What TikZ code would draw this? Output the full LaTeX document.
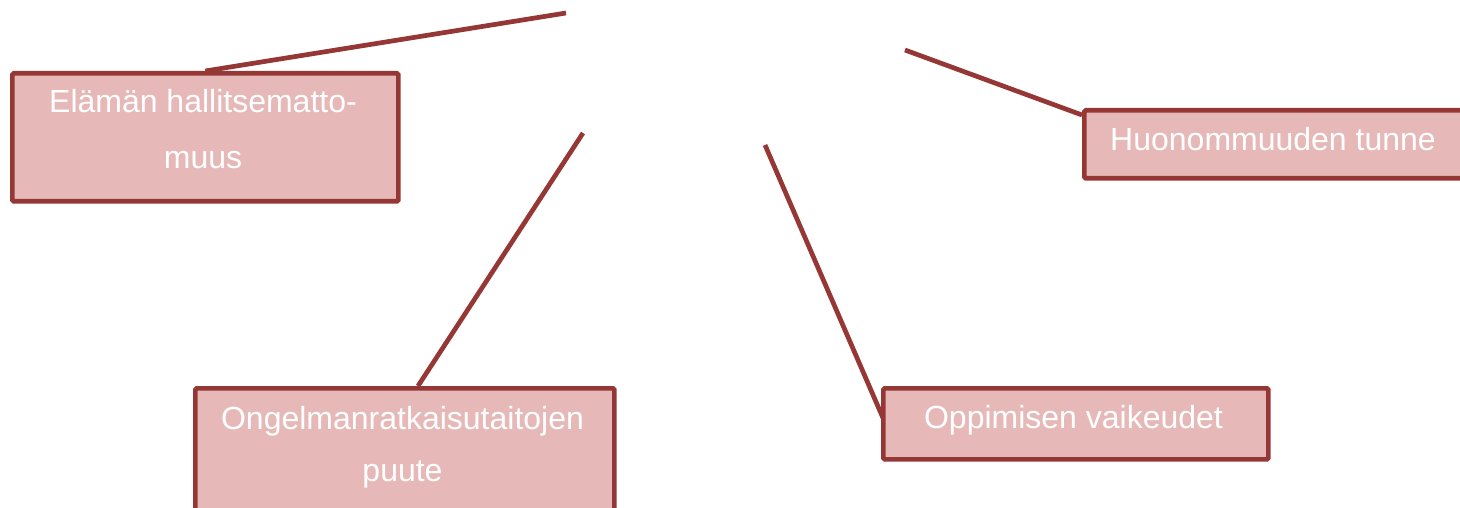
\documentclass[tikz,border=0pt]{standalone}
\usepackage{fontspec}
\setmainfont{Liberation Sans}
\usetikzlibrary{calc,backgrounds}
\definecolor{boxfill}{HTML}{E6B9B8}
\definecolor{boxline}{HTML}{953735}
\begin{document}
\begin{tikzpicture}[x=1pt,y=-1pt,
  causebox/.style={draw=boxline, fill=boxfill, line width=4.7pt, rounded corners=1.5pt, inner sep=0pt, anchor=north west},
  boxtext/.style={text=white, font=\fontsize{32}{38}\selectfont, inner sep=0pt, anchor=base},
  link/.style={draw=boxline, line width=4.7pt}]
\useasboundingbox (0,0) rectangle (1460,508);
% boxes
\node[causebox, minimum width=386pt, minimum height=128pt] (b1) at (10,71) {};
\node[causebox, minimum width=384pt, minimum height=68pt] (b2) at (1082,108) {};
\node[causebox, minimum width=419pt, minimum height=160pt] (b3) at (193,386) {};
\node[causebox, minimum width=385pt, minimum height=71pt] (b4) at (881,386) {};
% texts
\node[boxtext] (t1a) at (203,113) {Elämän hallitsematto-};
\node[boxtext] (t1b) at (203,169) {muus};
\node[boxtext] (t2) at (1273,151) {Huonommuuden tunne};
\node[boxtext] (t3a) at (402.5,429) {Ongelmanratkaisutaitojen};
\node[boxtext] (t3b) at (402.5,481) {puute};
\node[boxtext] (t4) at (1073.5,428) {Oppimisen vaikeudet};
% free ends
\coordinate (c1) at (566,13);
\coordinate (c2) at (905,50);
\coordinate (c3) at (583,133);
\coordinate (c4) at (765,145);
\begin{pgfonlayer}{background}
\draw[link] (c1) -- (b1.north);
\draw[link] (c2) -- ($(b2.north west)+(0,7)$);
\draw[link] (c3) -- ($(b3.north west)+(225,0)$);
\draw[link] (c4) -- ($(b4.north west)+(2,32)$);
\end{pgfonlayer}
\end{tikzpicture}
\end{document}
